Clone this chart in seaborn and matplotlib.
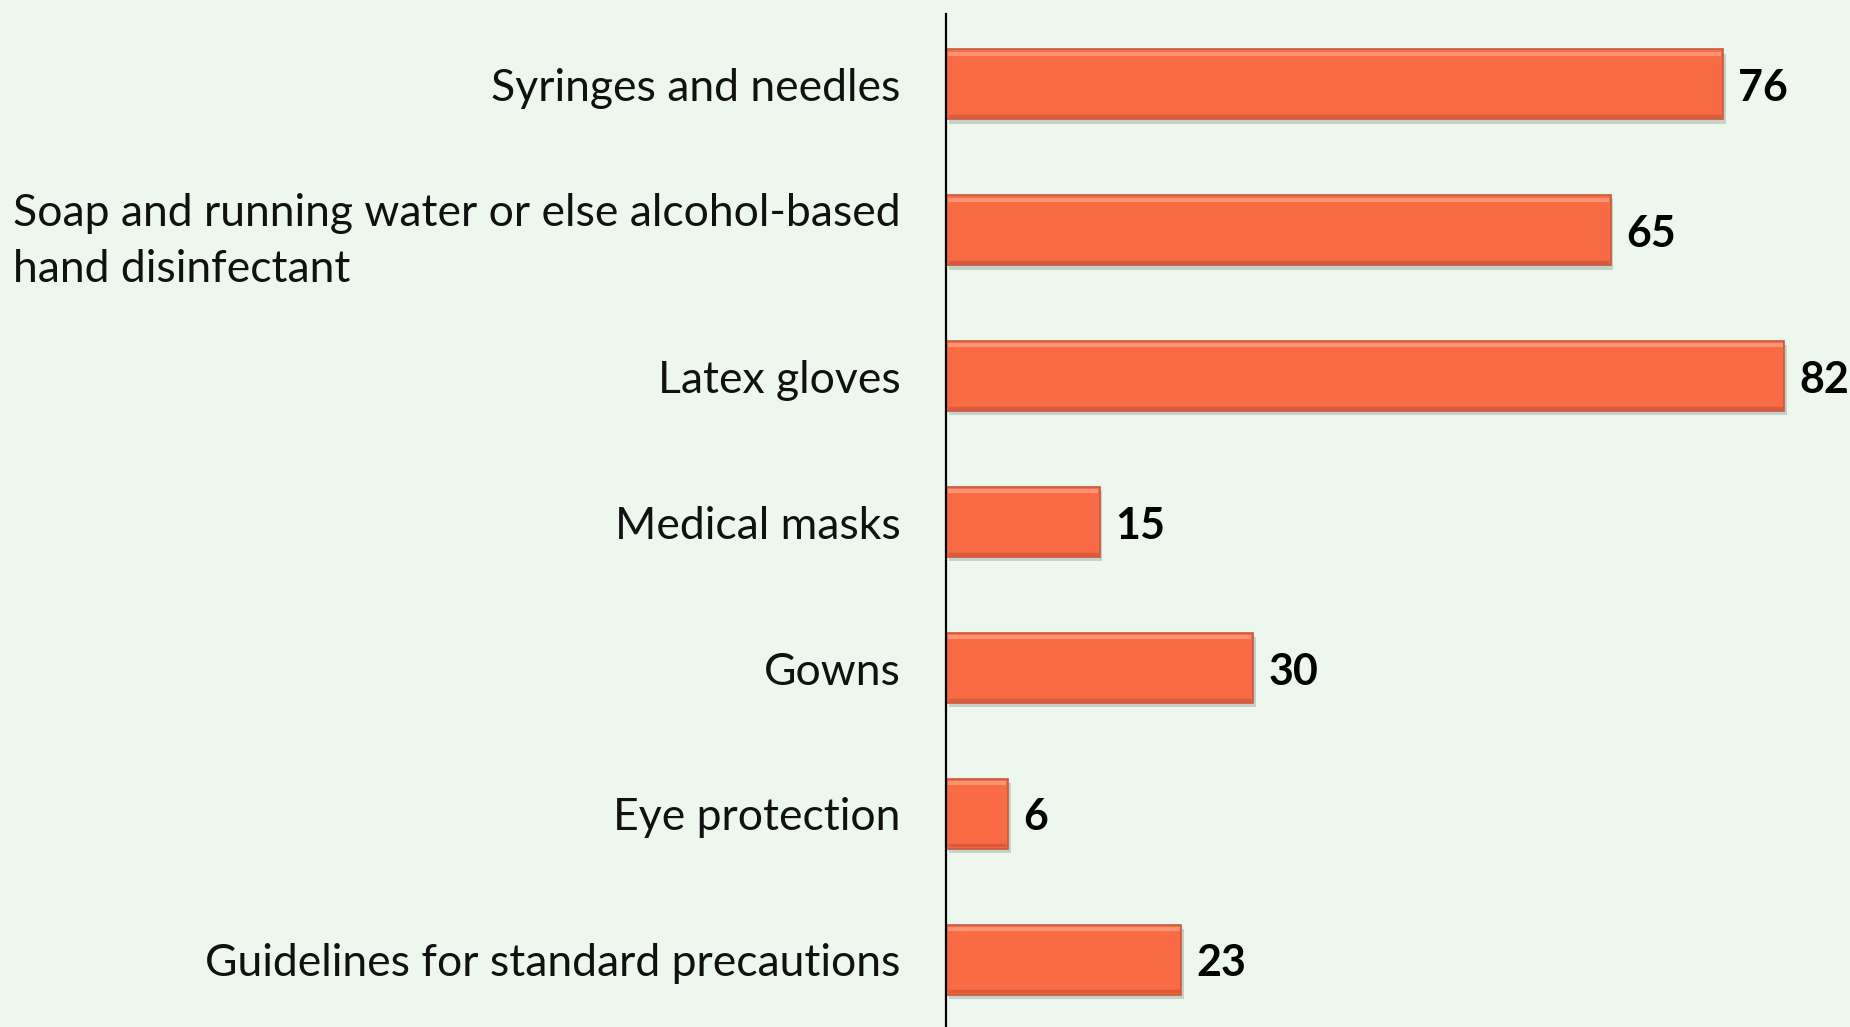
import matplotlib
matplotlib.use("Agg")
import matplotlib.pyplot as plt
import matplotlib.patheffects as pe
import seaborn as sns
import pandas as pd

categories = [
    "Syringes and needles",
    "Soap and running water or else alcohol-based\nhand disinfectant",
    "Latex gloves",
    "Medical masks",
    "Gowns",
    "Eye protection",
    "Guidelines for standard precautions",
]
values = [76, 65, 82, 15, 30, 6, 23]

bg = "#EDF7EE"
bar_color = "#F96B45"

sns.set_theme(style="white")
plt.rcParams["font.family"] = ["Lato", "DejaVu Sans"]

df = pd.DataFrame({"item": categories, "pct": values})

fig = plt.figure(figsize=(18.5, 10.27), dpi=100, facecolor=bg)
ax = fig.add_axes([0.5116, 0.0, 0.486, 0.986])
ax.set_facecolor(bg)

sns.barplot(data=df, x="pct", y="item", orient="h", color=bar_color,
            width=0.48, saturation=1, ax=ax,
            edgecolor="#C65A3C", linewidth=1.2)

bars = list(ax.patches)
for patch in bars:
    patch.set_path_effects([
        pe.SimplePatchShadow(offset=(2, -3), shadow_rgbFace="#9aa39c", alpha=0.45),
        pe.Normal(),
    ])

# bevel-style highlight along the top and shade along the bottom of each bar
for patch in bars:
    x0, y0 = patch.get_x(), patch.get_y()
    w, h = patch.get_width(), patch.get_height()
    ax.hlines(y0 + h * 0.06, x0 + 0.15, x0 + w - 0.15, color="#FC9372", lw=3, zorder=3)
    ax.hlines(y0 + h * 0.95, x0 + 0.15, x0 + w - 0.15, color="#DC5A3C", lw=2.5, zorder=3)

for patch, v in zip(bars, values):
    y = patch.get_y() + patch.get_height() / 2
    ax.annotate(f"{v}", xy=(v, y), xytext=(11, -2.5), textcoords="offset points",
                va="center", ha="left", fontsize=31, fontweight="bold", color="black")

ax.set_xlim(0, 88)
ax.set_ylim(6.46, -0.48)
ax.set_xlabel("")
ax.set_ylabel("")
ax.set_xticks([])
ax.tick_params(axis="y", length=0, pad=33, labelsize=32, labelcolor="#111111")
for lbl in ax.get_yticklabels():
    lbl.set_multialignment("left")
    lbl.set_linespacing(1.45)

for side in ["top", "right", "bottom"]:
    ax.spines[side].set_visible(False)
ax.spines["left"].set_color("black")
ax.spines["left"].set_linewidth(1.6)

fig.savefig("out.png", dpi=100, facecolor=bg)
